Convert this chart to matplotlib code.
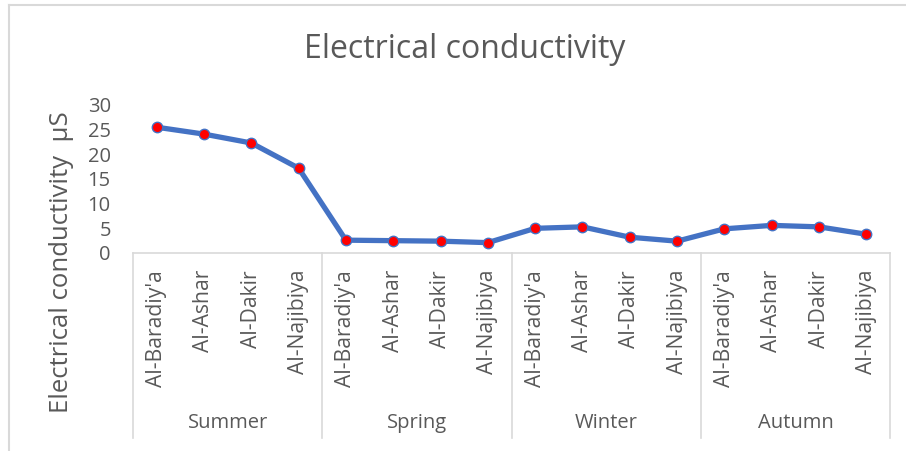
import matplotlib
matplotlib.use("Agg")
import matplotlib.pyplot as plt
from matplotlib.lines import Line2D

seasons = ["Summer", "Spring", "Winter", "Autumn"]
sites = ["Al-Baradiy'a", "Al-Ashar", "Al-Dakir", "Al-Najibiya"]
summer = [25.5, 24.1, 22.3, 17.2]
spring = [2.6, 2.5, 2.4, 2.1]
winter = [5.0, 5.3, 3.2, 2.4]
autumn = [4.9, 5.6, 5.3, 3.8]
yticks = [0, 5, 10, 15, 20, 25, 30]

values = summer + spring + winter + autumn
labels = sites * len(seasons)

plt.rcParams['font.family'] = ['Open Sans', 'DejaVu Sans']
TXT = "#595959"
GRID = "#d9d9d9"

W, H = 906, 451
fig = plt.figure(figsize=(W / 100, H / 100), dpi=100)

# outer chart frame
fig.add_artist(Line2D([9 / W, 9 / W], [0, 1 - 5 / H], color=GRID, lw=1.5))
fig.add_artist(Line2D([9 / W, 1], [1 - 5 / H, 1 - 5 / H], color=GRID, lw=1.5))

x0, x1 = 133, 890
y0, y1 = 253, 105
ax = fig.add_axes([x0 / W, (H - y0) / H, (x1 - x0) / W, (y0 - y1) / H])

xs = list(range(len(values)))
ax.plot(xs, values, color="#4472C4", lw=3.8, marker="o", markersize=7.5,
        markerfacecolor="#FF0000", markeredgecolor="#4472C4", markeredgewidth=1.0,
        solid_capstyle="round", zorder=3, clip_on=False)

ax.set_xlim(-0.5, len(values) - 0.5)
ax.set_ylim(0, 30)
ax.set_yticks(yticks)
ax.set_yticklabels([str(t) for t in yticks], fontsize=14.5, color=TXT)
ax.tick_params(axis="y", length=0, pad=16)
ax.set_xticks([])
for s in ["top", "right", "left"]:
    ax.spines[s].set_visible(False)
ax.spines["bottom"].set_color(GRID)
ax.spines["bottom"].set_linewidth(1.2)

trans = ax.get_xaxis_transform()
axh = y0 - y1
bottom_frac = -(438 - y0) / axh
# separators
for k in range(len(seasons) + 1):
    xv = k * len(sites) - 0.5
    ax.add_line(Line2D([xv, xv], [0, bottom_frac], transform=trans, color=GRID,
                       lw=1.2, clip_on=False))
# tick labels
for i, lab in enumerate(labels):
    ax.text(i, -(270 - y0) / axh, lab, transform=trans, rotation=90, ha="center",
            va="top", fontsize=15.2, color=TXT)
# group labels
for g, season in enumerate(seasons):
    ax.text(g * len(sites) + (len(sites) - 1) / 2, -(423 - y0) / axh, season,
            transform=trans, ha="center", va="center", fontsize=14.5, color=TXT)

fig.text(465 / W, 1 - 50 / H, "Electrical conductivity", ha="center", va="center",
         fontsize=23, color=TXT)
fig.text(62 / W, 1 - 262 / H, "Electrical conductivity  µS", ha="center", va="center",
         rotation=90, fontsize=18.5, color=TXT)

fig.savefig("out.png", dpi=100, facecolor="white")
